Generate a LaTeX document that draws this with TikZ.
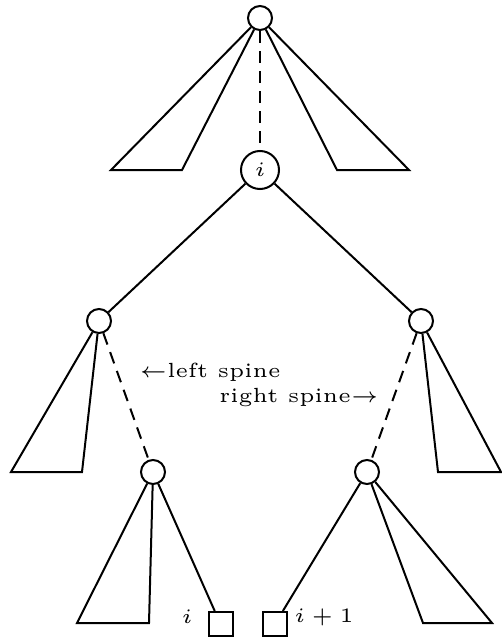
\documentclass[tikz,border=0pt]{standalone}
\begin{document}
\begin{tikzpicture}[x=1pt,y=-1pt,line width=2pt,
  vtx/.style={circle,draw,minimum size=24pt,inner sep=0pt},
  bigvtx/.style={circle,draw,minimum size=38pt,inner sep=0pt,font=\fontsize{5}{6}\selectfont},
  leaf/.style={rectangle,draw,minimum size=24pt,inner sep=0pt},
  spine/.style={dash pattern=on 12pt off 8pt},
  lbl/.style={inner sep=0pt,scale=4.1,font=\fontsize{5}{6}\selectfont}]
\useasboundingbox (0,0) rectangle (502,637);
% nodes
\node[vtx] (root) at (260,18) {};
\node[bigvtx] (ni) at (260,170) {\scalebox{4.1}{$i$}};
\node[vtx] (L) at (99,321) {};
\node[vtx] (R) at (421,321) {};
\node[vtx] (LL) at (153,472) {};
\node[vtx] (RR) at (367,472) {};
\node[leaf] (s1) at (220.5,624) {};
\node[leaf] (s2) at (275,624) {};
% triangle corners
\coordinate (a1) at (111,170); \coordinate (a2) at (182,170);
\coordinate (b1) at (337,170); \coordinate (b2) at (409,170);
\coordinate (c1) at (11,472);  \coordinate (c2) at (82,472);
\coordinate (d1) at (438,472); \coordinate (d2) at (501,472);
\coordinate (e1) at (77,623);  \coordinate (e2) at (149,623);
\coordinate (f1) at (423,623); \coordinate (f2) at (492,623);
% subtrees
\draw[line join=miter] (root) -- (a1) -- (a2) -- (root);
\draw[line join=miter] (root) -- (b1) -- (b2) -- (root);
\draw[line join=miter] (L) -- (c1) -- (c2) -- (L);
\draw[line join=miter] (R) -- (d1) -- (d2) -- (R);
\draw[line join=miter] (LL) -- (e1) -- (e2) -- (LL);
\draw[line join=miter] (RR) -- (f1) -- (f2) -- (RR);
% edges
\draw[spine] (root) -- (ni);
\draw (ni) -- (L);
\draw (ni) -- (R);
\draw[spine] (L) -- (LL);
\draw[spine] (R) -- (RR);
\draw (LL) -- (s1);
\draw (RR) -- (s2);
% labels
\node[lbl] (li) at (187,617) {$i$};
\node[lbl] (lj) at (324,617) {$i+1$};
\node[lbl] (ls) at (210,372) {$\leftarrow$left spine};
\node[lbl] (rs) at (299,397) {right spine$\rightarrow$};
\end{tikzpicture}
\end{document}
